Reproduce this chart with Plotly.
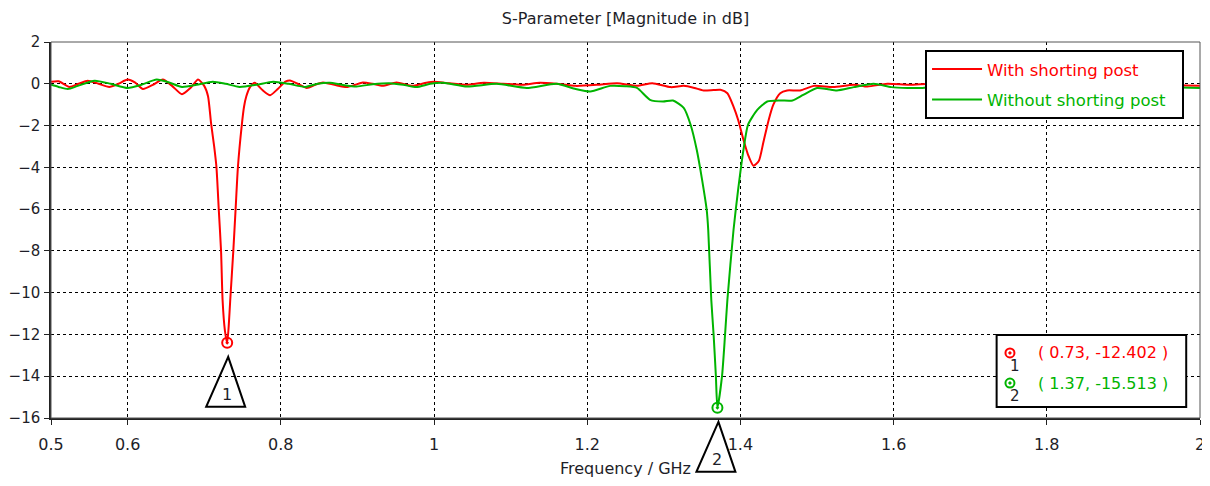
import plotly.graph_objects as go

# Кривая "With shorting post"
freq_with = [0.500, 0.510, 0.524, 0.536, 0.548, 0.562, 0.576, 0.588, 0.600, 0.610,
             0.620, 0.633, 0.646, 0.658, 0.671, 0.682, 0.692, 0.700, 0.705, 0.709,
             0.713, 0.716, 0.719, 0.722, 0.724, 0.727, 0.730, 0.732, 0.734, 0.738,
             0.741, 0.744, 0.749, 0.752, 0.755, 0.760, 0.766, 0.776, 0.786, 0.796,
             0.806, 0.812, 0.822, 0.834, 0.845, 0.855, 0.870, 0.886, 0.897, 0.907,
             0.920, 0.933, 0.951, 0.972, 0.990, 1.000, 1.020, 1.043, 1.065, 1.090,
             1.116, 1.138, 1.160, 1.185, 1.213, 1.239, 1.265, 1.285, 1.309, 1.326,
             1.340, 1.352, 1.365, 1.374, 1.383, 1.391, 1.397, 1.404, 1.410, 1.417,
             1.424, 1.430, 1.437, 1.443, 1.452, 1.461, 1.478, 1.496, 1.521, 1.548,
             1.566, 1.592, 1.620, 1.650, 1.680, 1.710, 1.750, 1.800, 1.850, 1.900,
             1.950, 2.000]
s11_with = [0.10, 0.12, -0.15, 0.00, 0.15, 0.00, -0.15, 0.00, 0.20, 0.05,
            -0.25, -0.05, 0.20, -0.10, -0.50, -0.20, 0.20, -0.10, -0.60, -1.90,
            -3.00, -4.00, -6.00, -8.00, -10.35, -11.80, -12.402, -11.60, -10.35, -8.00,
            -6.00, -4.00, -2.00, -1.10, -0.60, -0.15, 0.05, -0.30, -0.55, -0.25,
            0.10, 0.16, 0.00, -0.20, -0.05, 0.06, -0.05, -0.16, -0.05, 0.06,
            0.00, -0.10, 0.06, -0.10, 0.05, 0.10, 0.02, -0.05, 0.05, 0.00,
            -0.05, 0.05, 0.00, -0.10, -0.05, 0.03, -0.10, 0.03, -0.16, -0.10,
            -0.20, -0.32, -0.30, -0.29, -0.45, -1.09, -1.72, -2.68, -3.40, -3.92,
            -3.70, -2.80, -1.72, -1.00, -0.45, -0.32, -0.32, -0.10, -0.16, -0.05,
            -0.13, 0.00, -0.05, 0.00, -0.05, 0.02, 0.00, -0.02, 0.00, -0.05,
            -0.05, -0.10]

# Кривая "Without shorting post"
freq_without = [0.500, 0.510, 0.522, 0.535, 0.557, 0.578, 0.600, 0.618, 0.638, 0.655,
                0.671, 0.690, 0.711, 0.728, 0.746, 0.768, 0.790, 0.810, 0.832, 0.848,
                0.864, 0.880, 0.899, 0.920, 0.942, 0.960, 0.977, 0.995, 1.012, 1.043,
                1.082, 1.121, 1.160, 1.185, 1.204, 1.230, 1.250, 1.265, 1.282, 1.299,
                1.312, 1.326, 1.335, 1.343, 1.350, 1.356, 1.358, 1.362, 1.365, 1.368,
                1.370, 1.376, 1.380, 1.383, 1.391, 1.397, 1.404, 1.410, 1.422, 1.435,
                1.452, 1.468, 1.482, 1.500, 1.513, 1.526, 1.548, 1.574, 1.597, 1.618,
                1.636, 1.660, 1.700, 1.750, 1.800, 1.850, 1.900, 1.950, 2.000]
s11_without = [-0.05, -0.15, -0.25, -0.10, 0.15, 0.00, -0.20, -0.05, 0.20, 0.05,
               -0.15, -0.05, 0.10, 0.00, -0.15, -0.05, 0.10, 0.00, -0.15, 0.00,
               0.05, -0.05, -0.13, -0.02, 0.03, -0.05, -0.16, 0.00, 0.05, -0.13,
               0.00, -0.20, 0.00, -0.25, -0.37, -0.10, -0.12, -0.20, -0.77, -0.85,
               -0.80, -1.15, -1.96, -3.16, -4.60, -6.04, -7.00, -10.35, -12.00, -14.00,
               -15.513, -14.00, -12.00, -10.35, -7.00, -5.08, -3.16, -1.96, -1.25, -0.85,
               -0.80, -0.80, -0.53, -0.20, -0.25, -0.32, -0.16, 0.00, -0.16, -0.20,
               -0.20, -0.10, -0.05, -0.10, -0.05, -0.10, -0.10, -0.15, -0.20]

# Маркеры
marker_f = [0.73, 1.37]
marker_db = [-12.402, -15.513]
marker_labels = ["1", "2"]

x_ticks = [0.5, 0.6, 0.8, 1, 1.2, 1.4, 1.6, 1.8, 2]
y_ticks = [2, 0, -2, -4, -6, -8, -10, -12, -14, -16]

RED = "#ff0000"
GREEN = "#00b400"
FONT = "DejaVu Sans"
TXT = "#1e1e28"
X_RANGE = [0.5, 2.0]
Y_RANGE = [-16, 2]

fig = go.Figure()

fig.add_trace(go.Scatter(
    x=freq_with, y=s11_with, mode="lines", legendgroup="a",
    name=f"<span style='color:{RED}'>With shorting post</span>",
    line=dict(color=RED, width=2, shape="spline", smoothing=0.6)
))
fig.add_trace(go.Scatter(
    x=freq_without, y=s11_without, mode="lines", legendgroup="b",
    name=f"<span style='color:{GREEN}'>Without shorting post</span>&nbsp;&nbsp;",
    line=dict(color=GREEN, width=2, shape="spline", smoothing=0.6)
))

# Точки маркеров (открытый кружок с точкой)
for f, db, col in zip(marker_f, marker_db, [RED, GREEN]):
    fig.add_trace(go.Scatter(
        x=[f], y=[db], mode="markers", showlegend=False, cliponaxis=False,
        marker=dict(symbol="circle-open-dot", size=10, color=col,
                    line=dict(color=col, width=2))
    ))


def to_paper(f, db):
    px = (f - X_RANGE[0]) / (X_RANGE[1] - X_RANGE[0])
    py = (db - Y_RANGE[0]) / (Y_RANGE[1] - Y_RANGE[0])
    return px, py


# Треугольники с номерами под маркерами
for f, db, lab in zip(marker_f, marker_db, marker_labels):
    px, py = to_paper(f, db)
    fig.add_shape(
        type="path", xref="paper", yref="paper",
        xsizemode="pixel", ysizemode="pixel", xanchor=px, yanchor=py,
        path="M 1,-14 L -21,-64 L 18,-64 Z",
        line=dict(color="black", width=2), fillcolor="rgba(0,0,0,0)"
    )
    fig.add_annotation(
        x=px, y=py, xref="paper", yref="paper", text=lab, showarrow=False,
        xanchor="center", yanchor="middle", yshift=-52,
        font=dict(family=FONT, size=16, color=TXT)
    )

# Блок со значениями маркеров
fig.add_shape(type="rect", xref="paper", yref="paper",
              x0=0.823, x1=0.988, y0=0.029, y1=0.221,
              line=dict(color="black", width=2), fillcolor="white", layer="above")
for i, (f, db, col, lab) in enumerate(zip(marker_f, marker_db, [RED, GREEN], marker_labels)):
    yy = 0.173 - i * 0.080
    fig.add_shape(type="circle", xref="paper", yref="paper",
                  xsizemode="pixel", ysizemode="pixel", xanchor=0.8346, yanchor=yy,
                  x0=-4.5, x1=4.5, y0=-4.5, y1=4.5,
                  line=dict(color=col, width=2), layer="above")
    fig.add_shape(type="circle", xref="paper", yref="paper",
                  xsizemode="pixel", ysizemode="pixel", xanchor=0.8346, yanchor=yy,
                  x0=-1.2, x1=1.2, y0=-1.2, y1=1.2,
                  line=dict(color=col, width=1), fillcolor=col, layer="above")
    fig.add_annotation(x=0.8346, y=yy, xref="paper", yref="paper", text=lab,
                       showarrow=False, xanchor="center", yanchor="middle",
                       xshift=5, yshift=-13,
                       font=dict(family=FONT, size=15, color=TXT))
    fig.add_annotation(x=0.857, y=yy, xref="paper", yref="paper",
                       text=f"( {f:g}, {db:.3f} )", showarrow=False,
                       xanchor="left", yanchor="middle",
                       font=dict(family=FONT, size=16, color=col))

# страница имеет отступ body 8px, поэтому фигура сдвинута внутрь окна
fig.update_layout(
    width=1202, height=470,
    margin=dict(l=43, r=10, t=34, b=60),
    paper_bgcolor="white", plot_bgcolor="white",
    title=dict(text="S-Parameter [Magnitude in dB]", x=0.5, xanchor="center",
               xref="paper", y=1 - 10 / 470, yanchor="middle",
               font=dict(family=FONT, size=16, color=TXT)),
    font=dict(family=FONT, size=16, color=TXT),
    showlegend=True,
    legend=dict(x=0.7607, y=0.979, xanchor="left", yanchor="top",
                bgcolor="white", bordercolor="black", borderwidth=2,
                font=dict(family=FONT, size=16.5), tracegroupgap=6,
                itemwidth=50),
    xaxis=dict(
        range=X_RANGE, tickvals=x_ticks, ticktext=[f"{v:g}" for v in x_ticks],
        automargin=False,
        showgrid=True, gridcolor="black", gridwidth=1, griddash="3px,3px",
        showline=True, linecolor="#222", linewidth=1.5, mirror=False,
        ticks="outside", ticklen=5, tickcolor="#222", zeroline=False,
        ticklabelstandoff=6, ticklabeloverflow="allow",
        title=dict(text="Frequency / GHz", standoff=10,
                   font=dict(family=FONT, size=16, color=TXT)),
        tickfont=dict(family=FONT, size=16, color=TXT)
    ),
    yaxis=dict(
        range=Y_RANGE, tickvals=y_ticks, automargin=False,
        showgrid=True, gridcolor="black", gridwidth=1, griddash="3px,3px",
        showline=True, linecolor="#222", linewidth=1.5, mirror=False,
        ticks="outside", ticklen=5, tickcolor="#222", zeroline=False,
        ticklabelstandoff=1, ticklabeloverflow="allow",
        tickfont=dict(family=FONT, size=15, color=TXT)
    )
)

# Рамка вокруг области графика (верх и право)
fig.add_shape(type="rect", xref="paper", yref="paper", x0=0, x1=1, y0=0, y1=1,
              line=dict(color="#555", width=1), layer="above")

fig.write_html("out.html")
